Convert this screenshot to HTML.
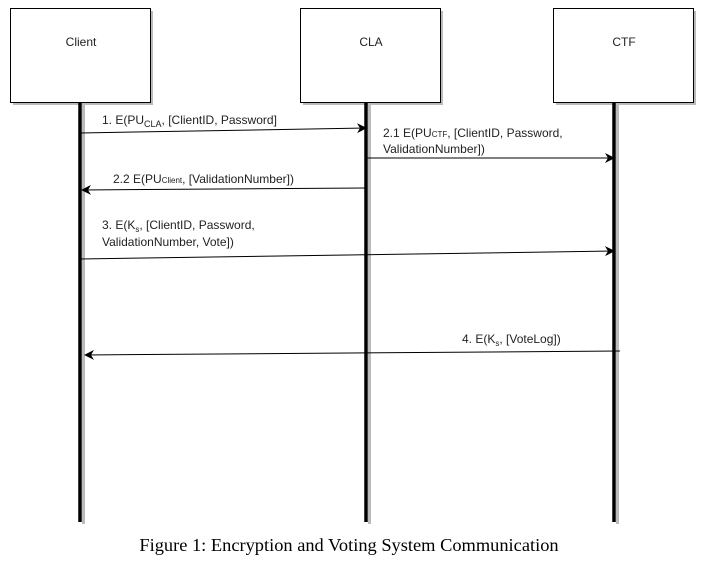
<!DOCTYPE html>
<html><head><meta charset="utf-8"><style>
html,body{margin:0;padding:0;background:#fff;}
svg{display:block;}
.t{font-family:"Liberation Sans",Arial,sans-serif;font-size:12px;fill:#222;}
</style></head><body>
<svg width="705" height="561" viewBox="0 0 705 561" xmlns="http://www.w3.org/2000/svg">
<defs>
<marker id="a" markerWidth="10" markerHeight="10" refX="9" refY="5" orient="auto" markerUnits="userSpaceOnUse">
<path d="M0,0 L10,5 L0,10 L3,5 Z" fill="#000"/></marker>
</defs>
<g fill="#bbb">
<rect x="13" y="11" width="140" height="94"/>
<rect x="303" y="11" width="140" height="94"/>
<rect x="556" y="11" width="140" height="94"/>
<rect x="82" y="104" width="3" height="420"/>
<rect x="368" y="104" width="3" height="420"/>
<rect x="616" y="104" width="3" height="420"/>
</g>
<g fill="#fff" stroke="#000" stroke-width="1">
<rect x="10.5" y="8.5" width="140" height="94"/>
<rect x="300.5" y="8.5" width="140" height="94"/>
<rect x="553.5" y="8.5" width="140" height="94"/>
</g>
<g class="t" text-anchor="middle">
<text x="81" y="46">Client</text>
<text x="371" y="46">CLA</text>
<text x="624" y="46">CTF</text>
</g>
<g stroke="#000" stroke-width="3.5">
<line x1="80" y1="102" x2="80" y2="522"/>
<line x1="366" y1="102" x2="366" y2="522"/>
<line x1="614" y1="102" x2="614" y2="522"/>
</g>
<g stroke="#000" stroke-width="1" fill="none">
<line x1="80" y1="133" x2="366" y2="128" marker-end="url(#a)"/>
<line x1="366" y1="158" x2="614" y2="158" marker-end="url(#a)"/>
<line x1="366" y1="188" x2="82" y2="190" marker-end="url(#a)"/>
<line x1="80" y1="259" x2="614" y2="251" marker-end="url(#a)"/>
<line x1="620" y1="351" x2="85" y2="355" marker-end="url(#a)"/>
</g>
<g class="t">
<text x="102" y="124">1. E(PU<tspan font-size="9" dy="3">CLA</tspan><tspan dy="-3">, [ClientID, Password]</tspan></text>
<text x="383" y="137">2.1 E(PU<tspan font-size="8">CTF</tspan>, [ClientID, Password,</text>
<text x="383" y="153">ValidationNumber])</text>
<text x="113" y="183">2.2 E(PU<tspan font-size="8">Client</tspan>, [ValidationNumber])</text>
<text x="102" y="229">3. E(K<tspan font-size="8" dy="3">s</tspan><tspan dy="-3">, [ClientID, Password,</tspan></text>
<text x="102" y="246">ValidationNumber, Vote])</text>
<text x="462" y="343">4. E(K<tspan font-size="8" dy="3">s</tspan><tspan dy="-3">, [VoteLog])</tspan></text>
</g>
<text x="349" y="551" text-anchor="middle" font-family="Liberation Serif,serif" font-size="18.4" fill="#000">Figure 1: Encryption and Voting System Communication</text>
</svg>
</body></html>
